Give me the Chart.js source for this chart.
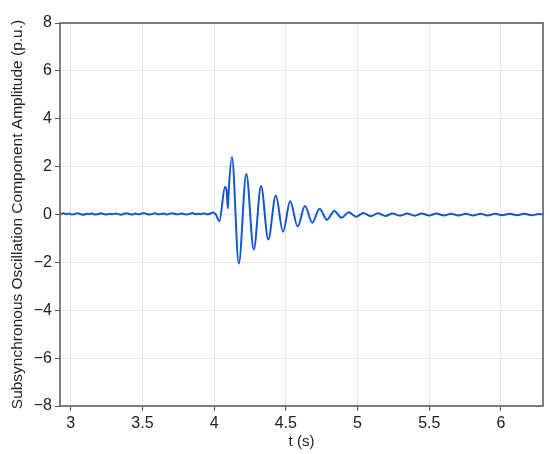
<!DOCTYPE html>
<html>
<head>
<meta charset="utf-8">
<script src="https://cdn.jsdelivr.net/npm/chart.js@4/dist/chart.umd.min.js"></script>
<style>
  body { margin: 0; background: #fff; }
</style>
</head>
<body>
<canvas id="oscChart" width="550" height="454"></canvas>
<script>
// pre-disturbance ripple
const preTimes = [2.93, 2.95, 2.97, 2.99, 3.01, 3.03, 3.05, 3.07, 3.09, 3.11, 3.13, 3.15, 3.17, 3.19, 3.21,
    3.23, 3.25, 3.27, 3.29, 3.31, 3.33, 3.35, 3.37, 3.39, 3.41, 3.43, 3.45, 3.47, 3.49, 3.51, 3.53, 3.55,
    3.57, 3.59, 3.61, 3.63, 3.65, 3.67, 3.69, 3.71, 3.73, 3.75, 3.77, 3.79, 3.81, 3.83, 3.85, 3.87, 3.89,
    3.91, 3.93, 3.95, 3.97, 3.99, 4.01];
const preAmps = [0.02, 0.05, 0.01, 0.04, 0.00, 0.03, 0.05, 0.01, -0.01, 0.03, 0.02, 0.04, 0.00, 0.02, 0.05,
    0.02, 0.00, 0.03, 0.01, 0.04, 0.02, -0.01, 0.03, 0.05, 0.02, 0.00, 0.04, 0.01, 0.03, 0.06, 0.02, 0.00,
    0.03, 0.05, 0.01, 0.02, 0.04, 0.00, 0.03, 0.05, 0.02, 0.01, 0.04, 0.02, 0.00, 0.03, 0.06, 0.01, 0.03,
    0.02, 0.05, 0.01, 0.03, 0.08, 0.02];

// disturbance and decaying oscillation
const eventTimes = [4.036, 4.076, 4.088, 4.096, 4.101, 4.124, 4.172, 4.224, 4.276, 4.327, 4.377, 4.430,
    4.480, 4.530, 4.582, 4.633, 4.684, 4.735, 4.786, 4.838, 4.888, 4.938, 4.990];
const eventAmps = [-0.27, 1.16, 0.92, 0.25, 0.95, 2.39, -2.05, 1.70, -1.46, 1.19, -1.04, 0.79,
    -0.72, 0.55, -0.50, 0.36, -0.34, 0.24, -0.22, 0.15, -0.14, 0.09, -0.09];

// residual ripple
const tailTimes = [5.040, 5.092, 5.142, 5.194, 5.244, 5.296, 5.346, 5.398, 5.448, 5.500, 5.550, 5.602,
    5.652, 5.704, 5.754, 5.806, 5.856, 5.908, 5.958, 6.010, 6.060, 6.112, 6.162, 6.214, 6.264, 6.29];
const tailAmps = [0.06, -0.07, 0.05, -0.06, 0.04, -0.05, 0.04, -0.05, 0.04, -0.04, 0.04, -0.04,
    0.03, -0.04, 0.03, -0.04, 0.03, -0.04, 0.03, -0.03, 0.03, -0.03, 0.03, -0.03, 0.02, 0.00];

const xTicks = [3, 3.5, 4, 4.5, 5, 5.5, 6];
const yTicks = [-8, -6, -4, -2, 0, 2, 4, 6, 8];

const allTimes = preTimes.concat(eventTimes, tailTimes);
const allAmps = preAmps.concat(eventAmps, tailAmps);
const points = allTimes.map((t, i) => ({ x: t, y: allAmps[i] }));

const fontFamily = "'Liberation Sans', Arial, sans-serif";
const axisColor = '#555555';

const frameBox = {
    id: 'frameBox',
    afterDraw(chart) {
        const { ctx, chartArea: a } = chart;
        ctx.save();
        ctx.strokeStyle = axisColor;
        ctx.lineWidth = 1.5;
        ctx.strokeRect(a.left, a.top, a.right - a.left, a.bottom - a.top);
        ctx.restore();
    }
};

const minus = v => String(v).replace('-', '\u2212');

new Chart(document.getElementById('oscChart'), {
    type: 'line',
    data: {
        datasets: [{
            data: points,
            borderColor: '#1257d0',
            borderWidth: 2,
            pointRadius: 0,
            cubicInterpolationMode: 'monotone',
            fill: false
        }]
    },
    options: {
        responsive: false,
        animation: false,
        layout: { padding: { top: 23, right: 7, left: 0, bottom: 0 } },
        plugins: { legend: { display: false }, tooltip: { enabled: false } },
        scales: {
            x: {
                type: 'linear',
                min: 2.925,
                max: 6.293,
                afterBuildTicks: s => { s.ticks = xTicks.map(v => ({ value: v })); },
                afterFit: s => { s.height = 48; },
                grid: { color: '#e6e6e6', tickColor: axisColor, tickLength: 5 },
                border: { display: false },
                ticks: { color: '#222', font: { family: fontFamily, size: 16 }, padding: 3, maxRotation: 0,
                    callback: v => minus(v) },
                title: { display: true, text: 't (s)', color: '#222',
                    font: { family: fontFamily, size: 15 }, padding: { top: 0, bottom: 3 } }
            },
            y: {
                min: -8,
                max: 8,
                afterBuildTicks: s => { s.ticks = yTicks.map(v => ({ value: v })); },
                afterFit: s => { s.width = 60; },
                grid: { color: '#e6e6e6', tickColor: axisColor, tickLength: 5 },
                border: { display: false },
                ticks: { color: '#222', font: { family: fontFamily, size: 16 }, padding: 3,
                    callback: v => minus(v) },
                title: { display: true, text: 'Subsynchronous Oscillation Component Amplitude (p.u.)', color: '#222',
                    font: { family: fontFamily, size: 15.5 }, padding: { top: 8, bottom: 0 } }
            }
        }
    },
    plugins: [frameBox]
});
</script>
</body>
</html>
